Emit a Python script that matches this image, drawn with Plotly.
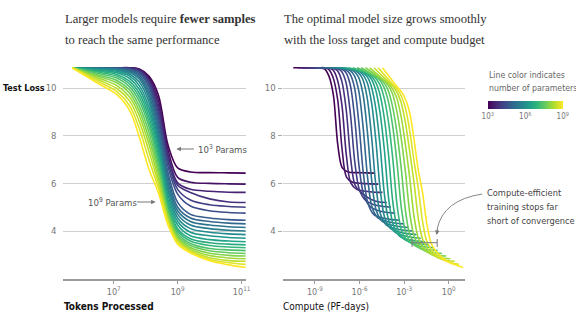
import plotly.graph_objects as go
from plotly.colors import sample_colorscale

W, H = 576, 324

# ---- data -------------------------------------------------------------
# log10(number of parameters) of each training run
param_exp = [3.0, 3.29, 3.57, 3.86, 4.14, 4.43, 4.71, 5.0, 5.29, 5.57, 5.86,
             6.14, 6.43, 6.71, 7.0, 7.29, 7.57, 7.86, 8.14, 8.43, 8.71, 9.0]

# log10(tokens processed) at which the test loss is recorded
log_tokens = [5.7, 6.5, 7.1, 7.5, 7.8, 8.1, 8.4, 8.7, 9.0, 9.4, 10.0, 10.6, 11.13]

# test loss per run, smallest model first
loss_n3_00 = [10.85, 10.85, 10.85, 10.85, 10.8, 10.5, 9.7, 7.6, 6.65, 6.48, 6.45, 6.44, 6.43]
loss_n3_29 = [10.85, 10.85, 10.85, 10.85, 10.78, 10.42, 9.5, 7.4, 6.25, 6.05, 6.0, 5.98, 5.97]
loss_n3_57 = [10.85, 10.85, 10.85, 10.84, 10.76, 10.35, 9.3, 7.2, 6.02, 5.75, 5.67, 5.63, 5.62]
loss_n3_86 = [10.85, 10.85, 10.85, 10.83, 10.74, 10.3, 9.1, 7.05, 5.92, 5.62, 5.35, 5.22, 5.2]
loss_n4_14 = [10.85, 10.85, 10.84, 10.82, 10.7, 10.25, 8.95, 6.9, 5.75, 5.3, 5.1, 5.03, 5.0]
loss_n4_43 = [10.85, 10.85, 10.84, 10.8, 10.66, 10.15, 8.75, 6.7, 5.55, 5.05, 4.85, 4.78, 4.75]
loss_n4_71 = [10.85, 10.84, 10.83, 10.77, 10.6, 10.05, 8.55, 6.45, 5.2, 4.7, 4.55, 4.48, 4.45]
loss_n5_00 = [10.85, 10.84, 10.82, 10.74, 10.53, 9.9, 8.35, 6.25, 5.0, 4.55, 4.4, 4.33, 4.3]
loss_n5_29 = [10.85, 10.83, 10.8, 10.7, 10.46, 9.75, 8.15, 6.05, 4.85, 4.4, 4.25, 4.18, 4.15]
loss_n5_57 = [10.85, 10.82, 10.78, 10.65, 10.38, 9.6, 7.95, 5.85, 4.7, 4.25, 4.1, 4.03, 4.0]
loss_n5_86 = [10.85, 10.81, 10.75, 10.58, 10.25, 9.42, 7.78, 5.68, 4.55, 4.1, 3.95, 3.88, 3.85]
loss_n6_14 = [10.85, 10.78, 10.7, 10.5, 10.1, 9.2, 7.6, 5.5, 4.4, 3.95, 3.8, 3.73, 3.7]
loss_n6_43 = [10.85, 10.75, 10.64, 10.4, 9.95, 9.0, 7.4, 5.3, 4.25, 3.8, 3.64, 3.58, 3.55]
loss_n6_71 = [10.85, 10.71, 10.57, 10.28, 9.78, 8.8, 7.2, 5.15, 4.1, 3.68, 3.51, 3.45, 3.42]
loss_n7_00 = [10.85, 10.67, 10.5, 10.17, 9.62, 8.6, 7.0, 5.0, 4.0, 3.58, 3.39, 3.33, 3.3]
loss_n7_29 = [10.85, 10.62, 10.42, 10.05, 9.45, 8.4, 6.8, 4.88, 3.9, 3.48, 3.27, 3.21, 3.18]
loss_n7_57 = [10.85, 10.56, 10.32, 9.92, 9.25, 8.15, 6.6, 4.75, 3.8, 3.39, 3.17, 3.09, 3.06]
loss_n7_86 = [10.85, 10.5, 10.22, 9.78, 9.05, 7.9, 6.4, 4.65, 3.73, 3.31, 3.07, 2.98, 2.95]
loss_n8_14 = [10.85, 10.43, 10.1, 9.62, 8.85, 7.65, 6.2, 4.55, 3.66, 3.24, 2.97, 2.87, 2.84]
loss_n8_43 = [10.85, 10.36, 9.98, 9.45, 8.6, 7.35, 6.0, 4.45, 3.6, 3.18, 2.88, 2.76, 2.73]
loss_n8_71 = [10.85, 10.28, 9.85, 9.25, 8.3, 7.0, 5.8, 4.35, 3.52, 3.13, 2.81, 2.67, 2.6]
loss_n9_00 = [10.85, 10.2, 9.72, 9.05, 7.95, 6.6, 5.6, 4.25, 3.45, 3.08, 2.75, 2.58, 2.47]

loss_runs = [loss_n3_00, loss_n3_29, loss_n3_57, loss_n3_86, loss_n4_14, loss_n4_43,
             loss_n4_71, loss_n5_00, loss_n5_29, loss_n5_57, loss_n5_86, loss_n6_14,
             loss_n6_43, loss_n6_71, loss_n7_00, loss_n7_29, loss_n7_57, loss_n7_86,
             loss_n8_14, loss_n8_43, loss_n8_71, loss_n9_00]

tokens_ticks = [7, 9, 11]
compute_ticks = [-9, -6, -3, 0]
loss_ticks = [4, 6, 8, 10]
cbar_ticks = [3, 6, 9]

PF_DAY_FLOPS = 8.64e19  # one petaflop/s-day

# ---- styling ------------------------------------------------------------
SANS = "DejaVu Sans Condensed, Liberation Sans, sans-serif"
SERIF = "Liberation Serif, DejaVu Serif, serif"
GRID = "#cfcfcf"
TICK = "#777777"


def px(x):
    return x / W


def py(y):
    return 1 - y / H


def sup(e):
    return f"10<sup>{e}</sup>"


fig = go.Figure()
colors = sample_colorscale("Viridis", [(e - 3) / 6 for e in param_exp])
tokens = [10 ** v for v in log_tokens]

for e, loss, col in zip(param_exp, loss_runs, colors):
    n_params = 10 ** e
    compute = [6 * n_params * d / PF_DAY_FLOPS for d in tokens]
    line = dict(color=col, width=1.6, shape="spline", smoothing=0.9)
    fig.add_trace(go.Scatter(x=tokens, y=loss, mode="lines", line=line,
                             xaxis="x", yaxis="y", showlegend=False, hoverinfo="skip"))
    fig.add_trace(go.Scatter(x=compute, y=loss, mode="lines", line=line,
                             xaxis="x2", yaxis="y2", showlegend=False, hoverinfo="skip"))

# colour scale key for the parameter count
fig.add_trace(go.Scatter(
    x=[None], y=[None], mode="markers", xaxis="x2", yaxis="y2",
    showlegend=False, hoverinfo="skip",
    marker=dict(color=[3], cmin=3, cmax=9, colorscale="Viridis", showscale=True,
                colorbar=dict(orientation="h", thickness=8, thicknessmode="pixels",
                              len=75, lenmode="pixels", x=px(492), xanchor="left",
                              y=py(101), yanchor="top", xpad=0, ypad=0,
                              outlinewidth=0, ticks="", tickvals=cbar_ticks,
                              ticktext=[sup(v) for v in cbar_ticks],
                              tickfont=dict(family=SANS, size=8, color=TICK)))))

xcommon = dict(type="log", showgrid=False, zeroline=False, showline=True,
               linecolor="#9a9a9a", linewidth=1.5, ticks="outside", ticklen=4,
               tickcolor="#9a9a9a", tickfont=dict(family=SANS, size=9, color=TICK))
ycommon = dict(range=[2.0, 11.0], domain=[py(278.7), py(64.2)], showgrid=True,
               gridcolor=GRID, gridwidth=1, zeroline=False, showline=False,
               tickvals=loss_ticks, tickfont=dict(family=SANS, size=9.5, color=TICK))

fig.update_layout(
    width=W, height=H, margin=dict(l=0, r=0, t=0, b=0),
    paper_bgcolor="white", plot_bgcolor="white",
    xaxis=dict(xcommon, domain=[px(64), px(248)], range=[5.428, 11.133],
               tickvals=[10 ** v for v in tokens_ticks],
               ticktext=[sup(v) for v in tokens_ticks]),
    yaxis=dict(ycommon, anchor="x", ticks="outside", ticklen=4,
               tickcolor="rgba(0,0,0,0)"),
    xaxis2=dict(xcommon, domain=[px(285), px(469)], range=[-11.18, 1.09],
                tickvals=[10 ** v for v in compute_ticks],
                ticktext=[sup(v) for v in compute_ticks], anchor="y2"),
    yaxis2=dict(ycommon, anchor="x2", ticks="outside", ticklen=4, tickcolor="#aaaaaa"),
)

ann = []


def text(x, y, s, size=9, color="#555555", family=SANS, xanchor="left", align="left"):
    ann.append(dict(x=px(x), y=py(y), xref="paper", yref="paper", text=s, showarrow=False,
                    xanchor=xanchor, yanchor="middle", align=align,
                    font=dict(family=family, size=size, color=color)))


def arrow(x, y, ax, ay):
    ann.append(dict(x=px(x), y=py(y), xref="paper", yref="paper", text="", showarrow=True,
                    ax=ax, ay=ay, arrowhead=2, arrowsize=0.9, arrowwidth=1,
                    arrowcolor="#777777"))


# panel titles
TS = 12.6
text(64, 19, "Larger models require <b>fewer samples</b>", TS, "#333333", SERIF)
text(64, 40, "to reach the same performance", TS, "#333333", SERIF)
text(284, 19, "The optimal model size grows smoothly", TS, "#333333", SERIF)
text(284, 40, "with the loss target and compute budget", TS, "#333333", SERIF)

# axis titles
text(47, 88, "<b>Test Loss</b>", 9, "#111111", xanchor="right")
text(63, 306, "<b>Tokens Processed</b>", 10, "#111111")
text(283, 306, "Compute (PF-days)", 10, "#111111")

# colour key caption
text(491, 75, "Line color indicates", 8.7, "#666666")
text(491, 88, "number of parameters", 8.7, "#666666")

# run labels
text(198, 149, "10<sup>3</sup> Params", 9.5, "#555555")
arrow(178, 149, 19, 0)
text(87, 202, "10<sup>9</sup> Params", 9.5, "#555555")
arrow(157, 202, -20, 0)

# compute-efficient note
text(489, 192, "Compute-efficient", 9.2, "#444444")
text(489, 206, "training stops far", 9.2, "#444444")
text(489, 220, "short of convergence", 9.2, "#444444")
arrow(440.5, 235, 1, -8)

fig.update_layout(annotations=ann)

shp = []
shp.append(dict(type="path", xref="paper", yref="paper",
                path=f"M {px(486.5)} {py(194)} Q {px(447)} {py(200)} {px(441)} {py(229)}",
                line=dict(color="#888888", width=1)))
# bracket marking the compute-efficient range
for (x0, y0, x1, y1) in [(415.7, 242.7, 441, 242.7), (415.7, 239, 415.7, 247),
                         (441, 239, 441, 247)]:
    shp.append(dict(type="line", xref="paper", yref="paper", x0=px(x0), y0=py(y0),
                    x1=px(x1), y1=py(y1), line=dict(color="#777777", width=1)))
fig.update_layout(shapes=shp)

fig.write_html("out.html")
